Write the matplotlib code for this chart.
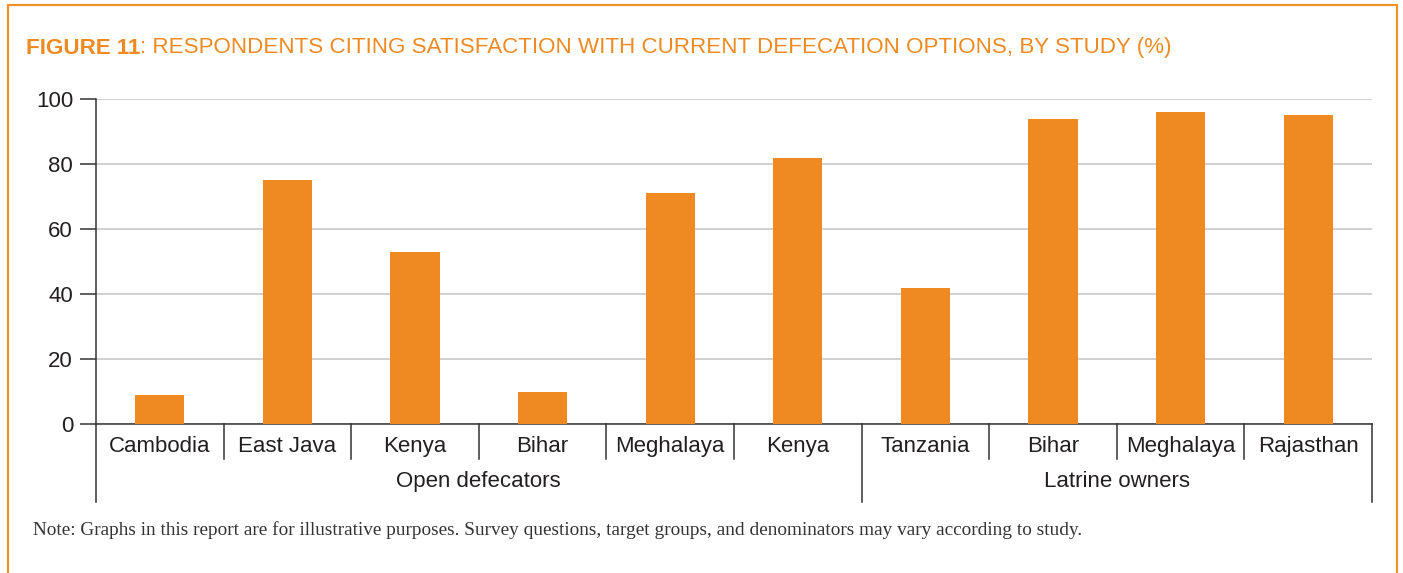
import matplotlib
matplotlib.use("Agg")
import matplotlib.pyplot as plt
from matplotlib import font_manager
from matplotlib.patches import Rectangle

categories = ["Cambodia", "East Java", "Kenya", "Bihar", "Meghalaya", "Kenya",
              "Tanzania", "Bihar", "Meghalaya", "Rajasthan"]
values = [9, 75, 53, 10, 71, 82, 42, 94, 96, 95]
groups = ["Open defecators", "Latrine owners"]
group_sizes = [6, 4]
yticks = [0, 20, 40, 60, 80, 100]

title_bold = "FIGURE 11"
title_rest = ": RESPONDENTS CITING SATISFACTION WITH CURRENT DEFECATION OPTIONS, BY STUDY (%)"
note = ("Note: Graphs in this report are for illustrative purposes. Survey questions, "
        "target groups, and denominators may vary according to study.")

ORANGE = "#EE8A21"
DARK = "#231F20"
W, H = 1403, 573


def has_font(name):
    try:
        font_manager.findfont(name, fallback_to_default=False)
        return True
    except Exception:
        return False


title_font = "Liberation Sans Narrow" if has_font("Liberation Sans Narrow") else "Liberation Sans"

fig = plt.figure(figsize=(W / 100, H / 100), dpi=100)
ax = fig.add_axes([96 / W, 1 - 424 / H, (1372 - 96) / W, 325 / H])

x = list(range(len(categories)))
ax.bar(x, values, width=0.385, color=ORANGE, zorder=3)
ax.set_xlim(-0.5, len(categories) - 0.5)
ax.set_ylim(0, 100)
ax.set_yticks(yticks)
ax.set_yticklabels([str(t) for t in yticks], fontsize=16, color=DARK,
                   family="Liberation Sans")
ax.tick_params(axis="y", length=11.5, width=1.1, color="#333333", pad=5)
ax.set_xticks([])
ax.grid(axis="y", color="#c8c8c8", linewidth=1.2, zorder=0)
for s in ["top", "right"]:
    ax.spines[s].set_visible(False)
ax.spines["left"].set_color("#333333")
ax.spines["bottom"].set_color("#333333")
ax.spines["left"].set_linewidth(1.1)
ax.spines["bottom"].set_linewidth(1.1)

# category labels and separators below the axis
tr = ax.get_xaxis_transform()
for i, c in enumerate(categories):
    ax.text(i, -0.068, c, transform=tr, ha="center", va="center",
            fontsize=16, color=DARK, family="Liberation Sans")
bounds = [0]
for n in group_sizes:
    bounds.append(bounds[-1] + n)
for k in range(1, len(categories)):
    if k in bounds:
        continue
    ax.plot([k - 0.5, k - 0.5], [0, -0.108], transform=tr, color="#333333",
            lw=1.1, clip_on=False)
for b in bounds:
    ax.plot([b - 0.5, b - 0.5], [0, -0.24], transform=tr, color="#333333",
            lw=1.1, clip_on=False)
for g, a, b in zip(groups, bounds[:-1], bounds[1:]):
    ax.text((a + b - 1) / 2, -0.178, g, transform=tr, ha="center", va="center",
            fontsize=16, color=DARK, family="Liberation Sans")

# orange frame
fig.patches.append(Rectangle((8 / W, -0.05), (1397 - 8) / W, 1.05 - 5 / H,
                             transform=fig.transFigure, fill=False,
                             edgecolor="#F0922B", lw=1.6))

# title, fitted to the reference width
renderer = fig.canvas.get_renderer()
fs = 15
t1 = fig.text(26 / W, 1 - 48 / H, title_bold, fontsize=fs, color=ORANGE,
              weight="bold", family=title_font, va="center")
t2 = fig.text(0, 1 - 48 / H, title_rest, fontsize=fs, color=ORANGE,
              family=title_font, va="center")
w = t1.get_window_extent(renderer).width + t2.get_window_extent(renderer).width
fs = fs * (1176 - 26) / w
t1.set_fontsize(fs)
t2.set_fontsize(fs)
w1 = t1.get_window_extent(renderer).width
t2.set_x((26 + w1) / W)

# note, fitted to the reference width
tn = fig.text(33 / W, 1 - 535 / H, note, fontsize=13, color="#333333",
              family="Liberation Serif", va="baseline")
wn = tn.get_window_extent(renderer).width
tn.set_fontsize(13 * (1081 - 33) / wn)

fig.savefig("out.png", dpi=100)
